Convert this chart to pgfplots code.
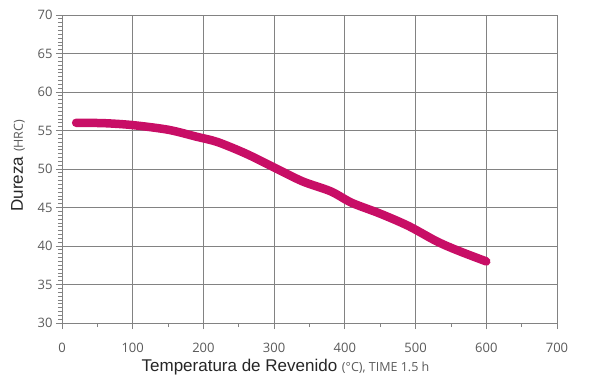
\documentclass[border=0pt]{standalone}
\usepackage{pgfplots}
\pgfplotsset{compat=1.18}
\usepackage{fontspec}
\setmainfont{Liberation Sans}
\newfontfamily\tickfont{Open Sans}
\definecolor{curve}{RGB}{200,14,102}
\definecolor{gridc}{RGB}{130,130,130}
\definecolor{tickc}{RGB}{90,90,90}
\begin{document}
\begin{tikzpicture}
\begin{axis}[
 scale only axis, width=495pt, height=308pt,
 xmin=0, xmax=700, ymin=30, ymax=70,
 xtick={0,100,...,700}, ytick={30,35,...,70},
 minor x tick num=1, minor y tick num=9,
 tick align=outside, xtick pos=bottom, ytick pos=left,
 major tick length=6pt, minor tick length=4pt,
 grid=major, major grid style={gridc, line width=0.9pt},
 axis line style={gridc, line width=0.9pt},
 tick style={gridc, line width=0.8pt},
 ticklabel style={font=\tickfont\fontsize{13}{15}\selectfont, text=tickc},
 xticklabel style={yshift=-11pt},
 /pgf/number format/assume math mode=true,
 clip=false,
 xlabel={\fontsize{17}{19}\selectfont\color{black!85} Temperatura de Revenido {\tickfont\fontsize{12.5}{14}\selectfont\color{tickc}(°C), TIME 1.5 h}},
 xlabel style={at={(rel axis cs:0.4515,-0.159)}, anchor=base},
 ylabel={\fontsize{17}{19}\selectfont\color{black!85} Dureza {\tickfont\fontsize{12.5}{14}\selectfont\color{tickc}(HRC)}},
 ylabel style={at={(rel axis cs:-0.0889,0.511)}, anchor=center, rotate=0},
]
\addplot[curve, line width=8.5pt, line cap=round, smooth] coordinates {
(20,56.0) (60,55.95) (100,55.7) (150,55.1) (190,54.2) (220,53.5) (260,52.0) (300,50.2) (340,48.4) (380,47.1) (410,45.6) (450,44.2) (490,42.6) (530,40.6) (560,39.4) (600,38.0)
};
\path (rel axis cs:-0.12525,-0.19805) rectangle (rel axis cs:1.07273,1.0487);
\end{axis}
\end{tikzpicture}
\end{document}
